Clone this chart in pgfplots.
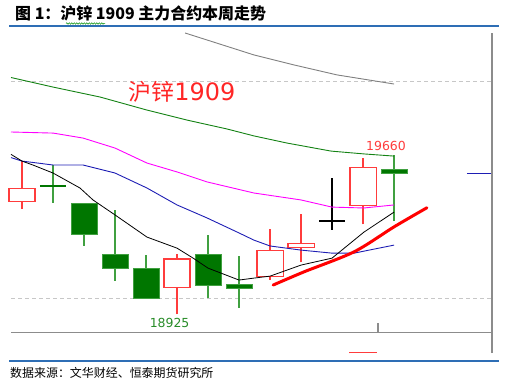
\documentclass[border=0pt]{standalone}
\usepackage{pgfplots}
\pgfplotsset{compat=1.18}
\usepackage{fontspec}
\setmainfont{Noto Sans CJK SC}
\newfontfamily\cjk{Noto Sans CJK SC}
\newfontfamily\dv{DejaVu Sans}
\usetikzlibrary{decorations.pathmorphing}
\definecolor{titleblue}{RGB}{46,110,181}
\definecolor{gbody}{RGB}{0,118,0}
\definecolor{gwick}{RGB}{64,160,64}
\definecolor{cred}{RGB}{255,60,60}
\definecolor{manavy}{RGB}{30,30,180}
\definecolor{magen}{RGB}{255,0,255}
\definecolor{mgreen}{RGB}{20,130,20}
\definecolor{mgray}{RGB}{128,128,128}
\definecolor{lbl}{RGB}{40,140,40}
\newcommand{\wick}[4]{\addplot[#4] coordinates {(#1,#2) (#1,#3)};}
\newcommand{\cbody}[5]{\addplot[#5] coordinates {(#1,#3) (#2,#3) (#2,#4) (#1,#4)} -- cycle;}
\tikzset{
  rw/.style={cred,line width=1.1bp},
  rb/.style={draw=cred,fill=white,line width=1.1bp},
  gw/.style={gwick,line width=1.1bp},
  gb/.style={draw=gwick,fill=gbody,line width=0.8bp},
}
\begin{document}
\begin{tikzpicture}[x=1bp,y=1bp]
\useasboundingbox (0,0) rectangle (508,385);
% title
\node[anchor=west,inner sep=0pt,font=\cjk\bfseries\fontsize{16}{18}\selectfont] at (15,372) {图 1：沪锌 1909 主力合约本周走势};
\draw[green!55!black,line width=0.5bp,decorate,decoration={snake,amplitude=0.7bp,segment length=2.5bp}] (66,361.5) -- (105,361.5);
\draw[titleblue,line width=2bp] (9,359) -- (499,359);
\draw[titleblue,line width=2bp] (9,24.5) -- (499,24.5);
\node[anchor=west,inner sep=0pt,font=\cjk\fontsize{12}{13}\selectfont] at (10,12) {数据来源：文华财经、恒泰期货研究所};
\begin{axis}[
  at={(11bp,32bp)}, anchor=south west, scale only axis,
  width=481bp, height=320bp,
  xmin=-0.355, xmax=15.16, ymin=18747, ymax=20221,
  axis line style={draw=none},
  scaled y ticks=false,
  xtick=\empty, ytick={19000,20000}, yticklabels={},
  major tick length=0pt,
  ymajorgrids,
  grid style={color=black!22,line width=0.8bp,dash pattern=on 4bp off 3bp},
  clip=false, no markers,
]
% frame lines
\addplot[black!45,line width=1.3bp] coordinates {(-0.355,18843) (15.16,18843)};
\addplot[black!45,line width=1.8bp] coordinates {(15.16,18747) (15.16,20221)};
\addplot[black!45,line width=1.3bp] coordinates {(11.48,18843) (11.48,18885)};
\addplot[cred,line width=1bp] coordinates {(10.55,18745) (10.55,18751) (11.45,18751) (11.45,18745)};
\addplot[manavy,line width=1bp] coordinates {(14.35,19576) (15.13,19576)};
% candles: red (up)
\wick{0}{19410}{19630}{rw}  \cbody{-0.42}{0.42}{19445}{19505}{rb}
\wick{5}{18925}{19205}{rw}  \cbody{4.58}{5.42}{19050}{19180}{rb}
\wick{8}{19085}{19320}{rw}  \cbody{7.58}{8.42}{19100}{19220}{rb}
\wick{9}{19165}{19385}{rw}  \cbody{8.58}{9.42}{19235}{19250}{rb}
\wick{11}{19340}{19645}{rw} \cbody{10.58}{11.42}{19425}{19600}{rb}
% candles: green (down)
\wick{1}{19440}{19615}{gw}
\addplot[gbody,line width=2bp] coordinates {(0.58,19515) (1.42,19515)};
\wick{2}{19240}{19435}{gw}  \cbody{1.58}{2.42}{19295}{19435}{gb}
\wick{3}{19080}{19405}{gw}  \cbody{2.58}{3.42}{19135}{19200}{gb}
\wick{4}{19000}{19200}{gw}  \cbody{3.58}{4.42}{19000}{19135}{gb}
\wick{6}{19000}{19290}{gw}  \cbody{5.58}{6.42}{19060}{19200}{gb}
\wick{7}{18955}{19195}{gw}  \cbody{6.58}{7.42}{19045}{19065}{gb}
\wick{12}{19355}{19660}{gw} \cbody{11.58}{12.42}{19575}{19595}{gb}
% black doji
\wick{10}{19315}{19555}{black,line width=1.1bp}
\addplot[black,line width=1.1bp] coordinates {(9.58,19355) (10.42,19355)};
% moving averages
\addplot[mgray,line width=0.9bp] coordinates {(5.26,20221) (7.48,20120) (8.77,20074) (10.16,20028) (12,19986)};
\addplot[mgreen,line width=0.9bp] coordinates {(-0.355,20016) (1,19972) (2.52,19926) (4.03,19866) (5.32,19820) (6.61,19779) (7.48,19747) (8.55,19714) (9.97,19677) (11.03,19664) (12,19654)};
\addplot[magen,line width=0.9bp] coordinates {(-0.355,19765) (1,19760) (1.97,19737) (3,19691) (4.03,19622) (5,19581) (5.97,19535) (7.48,19484) (9,19452) (10,19419) (11.03,19415) (12,19429)};
\addplot[manavy,line width=0.9bp] coordinates {(-0.355,19647) (0,19631) (1,19613) (1.97,19613) (3,19576) (4.03,19507) (5,19429) (5.97,19369) (7,19300) (7.48,19267) (8,19240) (9,19221) (10,19207) (10.71,19207) (12,19244)};
\addplot[black,line width=0.8bp] coordinates {(-0.355,19662) (0,19631) (0.35,19613) (1,19576) (1.87,19507) (2.29,19452) (3,19383) (4.03,19281) (5,19230) (5.52,19184) (6,19138) (7,19083) (7.48,19092) (8,19101) (9,19152) (10,19184) (11.03,19304) (12,19396)};
% hand-drawn trend line
\addplot[red,line width=3bp,line cap=round,smooth] coordinates {(8.10,19060) (9.10,19121) (10.71,19213) (12,19328) (13.06,19416)};
% labels
\node[font=\dv\fontsize{12.5}{13}\selectfont,text=cred] at (axis cs:11.74,19700) {19660};
\node[font=\dv\fontsize{12.5}{13}\selectfont,text=lbl] at (axis cs:4.76,18885) {18925};
\node[text=red!85!white,inner sep=0pt] at (axis cs:5.16,19949) {{\cjk\fontsize{23}{24}\selectfont 沪锌}{\dv\fontsize{24}{25}\selectfont 1909}};
\end{axis}
\end{tikzpicture}
\end{document}
